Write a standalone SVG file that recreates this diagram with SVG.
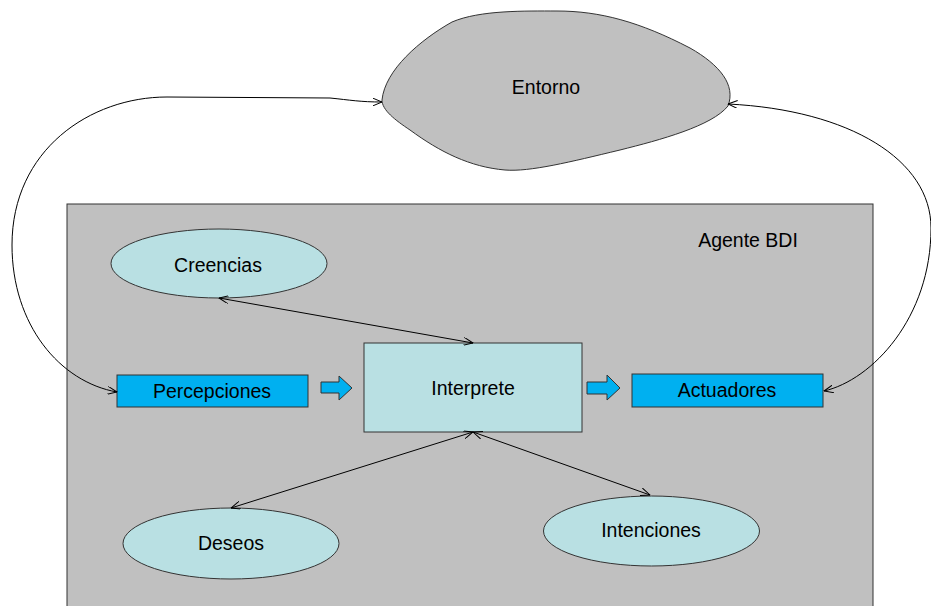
<svg xmlns="http://www.w3.org/2000/svg" width="931" height="606" viewBox="0 0 931 606">
  <defs>
    <marker id="open" viewBox="0 0 10 8" refX="9.5" refY="4" markerWidth="10" markerHeight="8" markerUnits="userSpaceOnUse" orient="auto-start-reverse">
      <path d="M0,0 L9.5,4 L0,8" fill="none" stroke="#000" stroke-width="1"/>
    </marker>
  </defs>
  <style>
    text { font-family: "Liberation Sans", Arial, sans-serif; font-size: 19.5px; fill: #000; text-anchor: middle; }
    .gray { fill: #c0c0c0; stroke: #333; stroke-width: 1; }
    .light { fill: #b9e0e3; stroke: #333; stroke-width: 1; }
    .blue { fill: #00b0f0; stroke: #333; stroke-width: 1; }
    .link { fill: none; stroke: #000; stroke-width: 1; marker-start: url(#open); marker-end: url(#open); }
  </style>
  <rect width="931" height="606" fill="#fff"/>

  <g id="entorno">
    <path class="gray" d="M382,100 C385,70 420,40 452,22 C480,10 525,11 557,11 C600,11 640,22 690,48 C720,65 736,85 728,106 C712,126 660,140 620,150 C570,162 530,172 505,170 C470,167 440,152 410,130 C395,120 382,110 382,100 Z"/>
    <text x="546" y="94">Entorno</text>
  </g>

  <g id="agente">
    <rect class="gray" x="67" y="204" width="806" height="420"/>
    <text x="748" y="247">Agente BDI</text>
  </g>

  <g id="creencias">
    <ellipse class="light" cx="219" cy="263.5" rx="108" ry="34.5"/>
    <text x="218" y="272">Creencias</text>
  </g>

  <g id="percepciones">
    <rect class="blue" x="117" y="375" width="191" height="32"/>
    <text x="212" y="398">Percepciones</text>
  </g>

  <g id="interprete">
    <rect class="light" x="364" y="343" width="218" height="89"/>
    <text x="473" y="395">Interprete</text>
  </g>

  <g id="actuadores">
    <rect class="blue" x="632" y="374" width="191" height="33"/>
    <text x="727" y="397">Actuadores</text>
  </g>

  <g id="deseos">
    <ellipse class="light" cx="231" cy="543.5" rx="108" ry="35.5"/>
    <text x="231" y="550">Deseos</text>
  </g>

  <g id="intenciones">
    <ellipse class="light" cx="651.5" cy="531" rx="108" ry="35"/>
    <text x="651" y="537">Intenciones</text>
  </g>

  <g id="flechas">
    <polygon class="blue" points="321,382 339,382 339,376 352,388 339,400 339,393 321,393"/>
    <polygon class="blue" points="587,382 607,382 607,375 620,388 607,400 607,394 587,394"/>
  </g>

  <g id="connectors">
    <path class="link" d="M117,392 C60,382 12,325 12,245 C12,150 90,97 167,97 L330,98 C350,100 360,102 382,102"/>
    <path class="link" d="M824,391 C872,380 931,318 931,228 C931,160 850,110 728,104"/>
    <path class="link" d="M219,298 L473,343"/>
    <path class="link" d="M231,508 L473,432"/>
    <path class="link" d="M473,432 L650,495"/>
  </g>
</svg>
